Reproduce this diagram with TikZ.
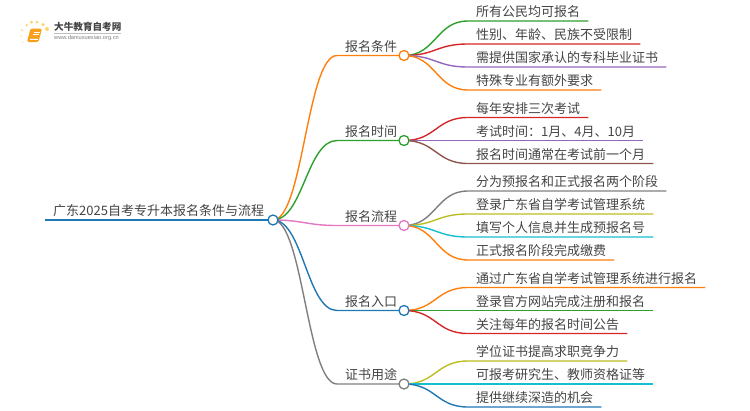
\documentclass[tikz,border=0pt]{standalone}
\usepackage{fontspec}
\setmainfont{Noto Sans CJK SC}
\setsansfont{Liberation Sans}
\definecolor{cblue}{HTML}{1F77B4}
\definecolor{corange}{HTML}{FF7F0E}
\definecolor{cgreen}{HTML}{2CA02C}
\definecolor{cred}{HTML}{D62728}
\definecolor{cpurple}{HTML}{9467BD}
\definecolor{cbrown}{HTML}{8C564B}
\definecolor{cpink}{HTML}{E377C2}
\definecolor{cgray}{HTML}{7F7F7F}
\definecolor{colive}{HTML}{BCBD22}
\definecolor{ccyan}{HTML}{17BECF}
\definecolor{ctext}{HTML}{444444}
\definecolor{cdot}{HTML}{FFD36B}
\definecolor{cbook}{HTML}{F7A01E}
\tikzset{
  lab/.style={anchor=south west,inner xsep=8pt,inner ysep=3pt,text=ctext,font=\fontsize{13}{13}\selectfont},
  hub/.style={circle,draw=#1,fill=white,line width=1.3pt,minimum size=10pt,inner sep=0pt},
  wire/.style={line width=1.4pt,color=#1},
  bulb/.style={cdot,circle,fill,inner sep=0pt,minimum size=#1},
}
\begin{document}
\begin{tikzpicture}[x=1pt,y=-1pt]
\useasboundingbox (0,0) rectangle (750,410);
% root
\node[lab] (root) at (45,220) {广东2025自考专升本报名条件与流程};
\coordinate (rootc) at (273,220);
% branches
\coordinate (hub1) at (404,55.5);
\coordinate (hub2) at (404,140.5);
\coordinate (hub3) at (404,225.5);
\coordinate (hub4) at (404,310.5);
\coordinate (hub5) at (404,384);
\node[lab] (bra1) at (337,55.5) {报名条件};
\node[lab] (bra2) at (337,140.5) {报名时间};
\node[lab] (bra3) at (337,225.5) {报名流程};
\node[lab] (bra4) at (337,310.5) {报名入口};
\node[lab] (bra5) at (337,384) {证书用途};
% leaves
\node[lab] (a1) at (468,21) {所有公民均可报名};
\node[lab] (a2) at (468,44) {性别、年龄、民族不受限制};
\node[lab] (a3) at (468,67) {需提供国家承认的专科毕业证书};
\node[lab] (a4) at (468,90) {特殊专业有额外要求};
\node[lab] (b1) at (468,117.5) {每年安排三次考试};
\node[lab] (b2) at (468,140.5) {考试时间：1月、4月、10月};
\node[lab] (b3) at (468,163.5) {报名时间通常在考试前一个月};
\node[lab] (c1) at (468,191) {分为预报名和正式报名两个阶段};
\node[lab] (c2) at (468,214) {登录广东省自学考试管理系统};
\node[lab] (c3) at (468,237) {填写个人信息并生成预报名号};
\node[lab] (c4) at (468,260) {正式报名阶段完成缴费};
\node[lab] (d1) at (468,287.5) {通过广东省自学考试管理系统进行报名};
\node[lab] (d2) at (468,310.5) {登录官方网站完成注册和报名};
\node[lab] (d3) at (468,333.5) {关注每年的报名时间公告};
\node[lab] (e1) at (468,361) {学位证书提高求职竞争力};
\node[lab] (e2) at (468,384) {可报考研究生、教师资格证等};
\node[lab] (e3) at (468,407) {提供继续深造的机会};
% root to branches
\draw[wire=corange] (rootc) .. controls +(30,0) and +(-30,0) .. (bra1.south west) -- (hub1);
\draw[wire=cgreen] (rootc) .. controls +(30,0) and +(-30,0) .. (bra2.south west) -- (hub2);
\draw[wire=cpink] (rootc) .. controls +(30,0) and +(-30,0) .. (bra3.south west) -- (hub3);
\draw[wire=cblue] (rootc) .. controls +(30,0) and +(-30,0) .. (bra4.south west) -- (hub4);
\draw[wire=cgray] (rootc) .. controls +(30,0) and +(-30,0) .. (bra5.south west) -- (hub5);
% branches to leaves
\draw[wire=cgreen] (hub1) .. controls +(32,0) and +(-32,0) .. (a1.south west) -- (a1.south east);
\draw[wire=cred] (hub1) .. controls +(32,0) and +(-32,0) .. (a2.south west) -- (a2.south east);
\draw[wire=cpurple] (hub1) .. controls +(32,0) and +(-32,0) .. (a3.south west) -- (a3.south east);
\draw[wire=corange] (hub1) .. controls +(32,0) and +(-32,0) .. (a4.south west) -- (a4.south east);
\draw[wire=cred] (hub2) .. controls +(32,0) and +(-32,0) .. (b1.south west) -- (b1.south east);
\draw[wire=cpurple] (hub2) .. controls +(32,0) and +(-32,0) .. (b2.south west) -- (b2.south east);
\draw[wire=cbrown] (hub2) .. controls +(32,0) and +(-32,0) .. (b3.south west) -- (b3.south east);
\draw[wire=cgray] (hub3) .. controls +(32,0) and +(-32,0) .. (c1.south west) -- (c1.south east);
\draw[wire=colive] (hub3) .. controls +(32,0) and +(-32,0) .. (c2.south west) -- (c2.south east);
\draw[wire=ccyan] (hub3) .. controls +(32,0) and +(-32,0) .. (c3.south west) -- (c3.south east);
\draw[wire=corange] (hub3) .. controls +(32,0) and +(-32,0) .. (c4.south west) -- (c4.south east);
\draw[wire=corange] (hub4) .. controls +(32,0) and +(-32,0) .. (d1.south west) -- (d1.south east);
\draw[wire=cgreen] (hub4) .. controls +(32,0) and +(-32,0) .. (d2.south west) -- (d2.south east);
\draw[wire=cred] (hub4) .. controls +(32,0) and +(-32,0) .. (d3.south west) -- (d3.south east);
\draw[wire=colive] (hub5) .. controls +(32,0) and +(-32,0) .. (e1.south west) -- (e1.south east);
\draw[wire=ccyan] (hub5) .. controls +(32,0) and +(-32,0) .. (e2.south west) -- (e2.south east);
\draw[wire=cblue] (hub5) .. controls +(32,0) and +(-32,0) .. (e3.south west) -- (e3.south east);
% root line and hubs on top
\draw[line width=2pt,cblue] (root.south west) -- (rootc);
\node[hub=cblue] (rhub) at (rootc) {};
\node[hub=corange] (hubo1) at (hub1) {};
\node[hub=cgreen] (hubo2) at (hub2) {};
\node[hub=cpink] (hubo3) at (hub3) {};
\node[hub=cblue] (hubo4) at (hub4) {};
\node[hub=cgray] (hubo5) at (hub5) {};
% logo
\node[anchor=west,inner sep=0pt,text=ctext,font=\bfseries\fontsize{9.6}{10}\selectfont] (title) at (54,27) {大牛教育自考网};
\node[anchor=west,inner sep=0pt,text=cgray,font=\sffamily\fontsize{5.7}{6}\selectfont] (url) at (54,38.5) {www.daniuxuexiao.org.cn};
\draw[cgray!50,line width=0.4pt] (54,33.5) -- (121,33.5);
\fill[cbook,rounded corners=1.5pt] (30.5,28.5) -- (42,28.5) -- (38.5,42) -- (27,42) -- cycle;
\fill[white] (29.8,39.8) -- (37.8,39.8) -- (38.1,38.8) -- (30.1,38.8) -- cycle;
\draw[white,line width=0.6pt] (33.5,32) -- (39.5,32) (33,34) -- (39,34);
\foreach \px/\py/\ps in {47/29/4pt,43/24.5/3.5pt,37/22/3pt,31.5/22/3pt,26.5/25/2.5pt,22/30/2pt,21/36/1.5pt,23/42/1.2pt}
  \node[bulb=\ps] at (\px,\py) {};
\end{tikzpicture}
\end{document}
